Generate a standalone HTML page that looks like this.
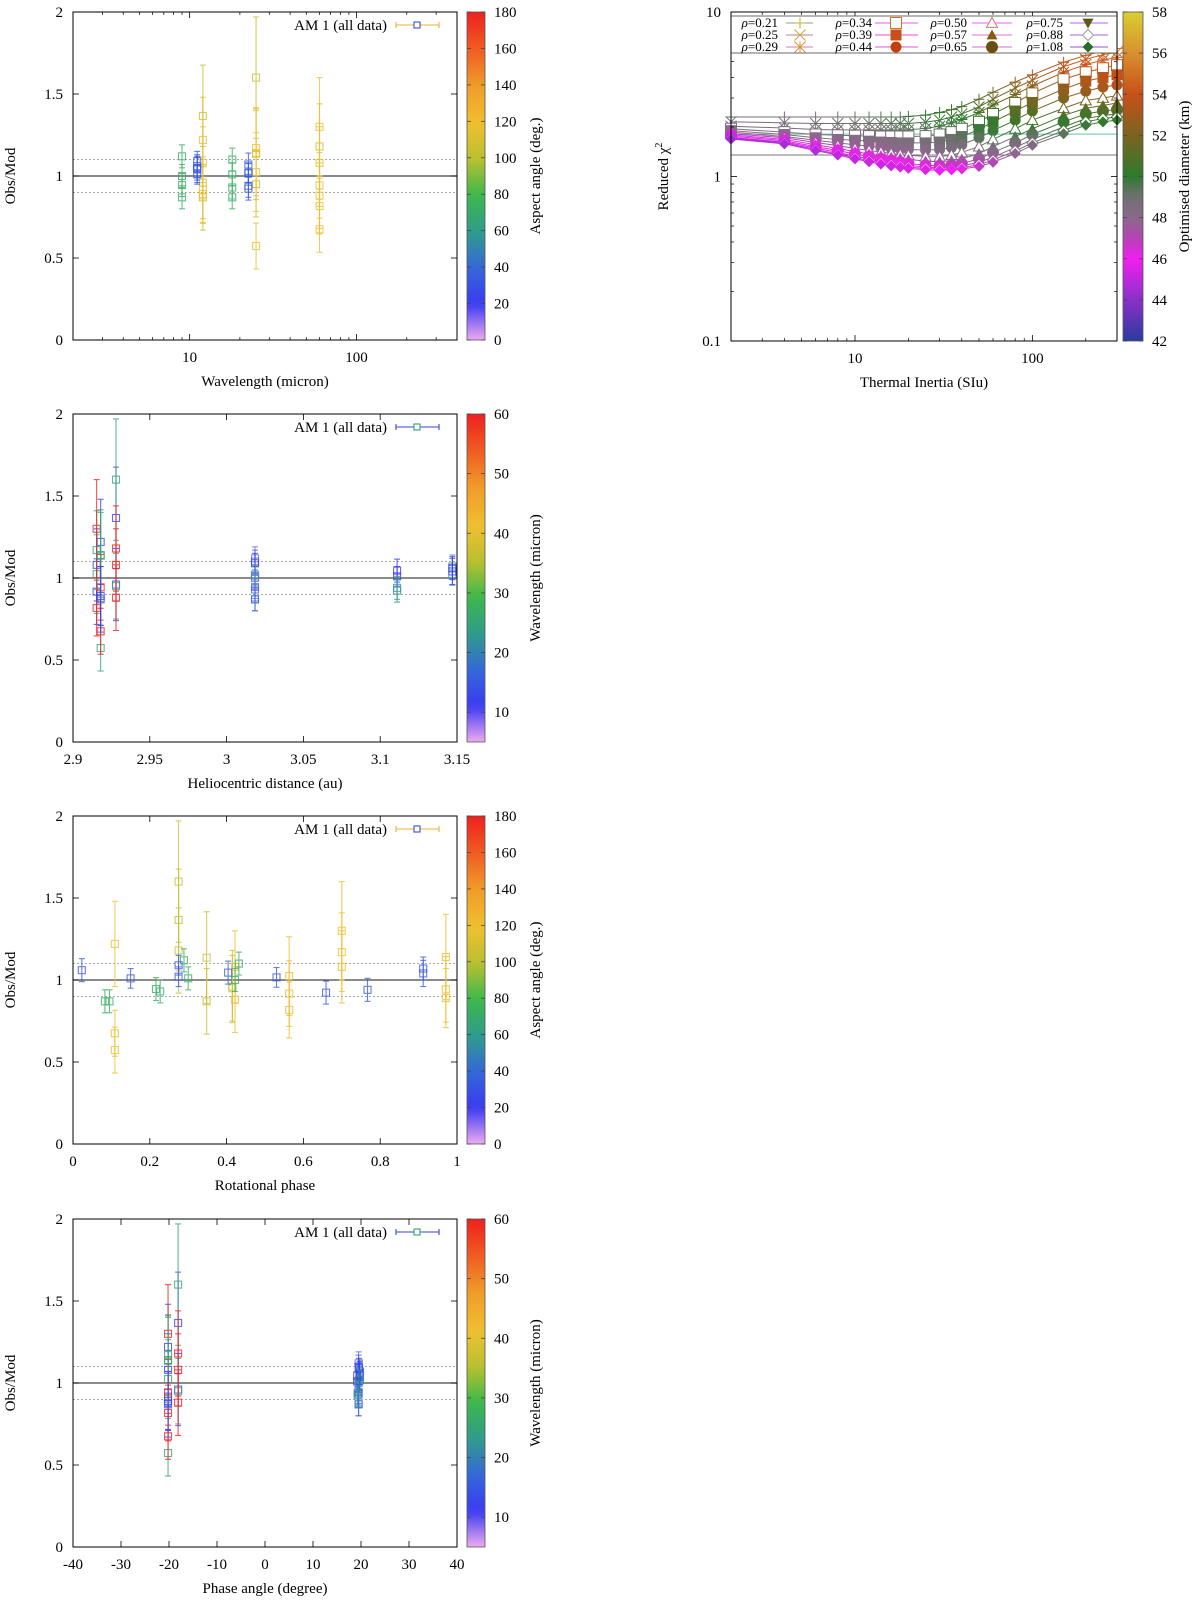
<!DOCTYPE html>
<html><head><meta charset="utf-8">
<style>
html,body{margin:0;padding:0;background:#fff;}
svg{display:block;font-family:"Liberation Serif",serif;}
</style></head>
<body>
<svg id="root" width="1200" height="1602" viewBox="0 0 1200 1602" xmlns="http://www.w3.org/2000/svg"></svg>
<script>
// ---------------- observation data (shared by the four Obs/Mod panels) ----------------
const obsWave   = [12,25,60,12,25,60,12,25,12,25,60,60,12,25,60,12,25,60,60,25,12, 9,18,9,18,9,18,9,18, 11.1,11.1,22.5,22.5,22.5,22.5,11.1,11.1,11.1,22.5];
const obsRh     = [2.918,2.918,2.918,2.928,2.928,2.928,2.918,2.918,2.928,2.928,2.928,2.928,2.9154,2.9154,2.9154,2.9154,2.9154,2.9154,2.918,2.918,2.918, 3.0185,3.0185,3.0185,3.0185,3.0185,3.0185,3.0185,3.0185, 3.111,3.111,3.111,3.111,3.147,3.147,3.147,3.147,3.0185,3.0185];
const obsPhase  = [-20.2,-20.2,-20.2,-18.1,-18.1,-18.1,-20.2,-20.2,-18.1,-18.1,-18.1,-18.1,-20.2,-20.2,-20.2,-20.2,-20.2,-20.2,-20.2,-20.2,-20.2, 19.5,19.5,19.5,19.5,19.5,19.5,19.5,19.5, 19.2,19.2,19.3,19.3,19.8,19.8,19.7,19.7,19.6,19.6];
const obsRot    = [0.109,0.109,0.109,0.275,0.275,0.275,0.348,0.348,0.415,0.415,0.422,0.422,0.563,0.563,0.563,0.700,0.700,0.700,0.971,0.971,0.971, 0.083,0.095,0.216,0.227,0.289,0.300,0.422,0.432, 0.404,0.150,0.659,0.767,0.912,0.530,0.912,0.023,0.275,0.275];
const obsRatio  = [1.22,0.573,0.675,1.366,1.60,1.18,0.87,1.136,0.96,0.95,1.08,0.88,0.917,1.024,0.817,1.08,1.17,1.30,0.943,1.14,0.89, 0.87,0.87,0.945,0.93,1.12,1.01,1.00,1.10, 1.045,1.01,0.923,0.94,1.07,1.016,1.04,1.06,1.09,1.02];
const obsErr    = [0.26,0.14,0.14,0.31,0.37,0.26,0.2,0.28,0.22,0.2,0.22,0.2,0.2,0.24,0.17,0.22,0.24,0.30,0.2,0.26,0.18, 0.07,0.07,0.07,0.07,0.07,0.07,0.07,0.07, 0.07,0.06,0.07,0.07,0.07,0.06,0.08,0.07,0.06,0.06];
const obsAspect = [118,118,118,105,105,105,105,105,105,105,118,118,118,118,118,118,118,118,118,118,118, 72,72,72,72,72,72,72,72, 33,33,33,33,33,33,33,33,33,33];

// ---------------- chi2 panel data ----------------
const tiValues = [2,4,6,8,10,12,14,16,18,20,25,30,35,40,50,60,80,100,150,200,250,300];
const rhoLabels = ["0.21","0.25","0.29","0.34","0.39","0.44","0.50","0.57","0.65","0.75","0.88","1.08"];
const chi021 = [2.3,2.3,2.3,2.3,2.3,2.3,2.3,2.3,2.3,2.32,2.36,2.45,2.55,2.66,2.95,3.25,3.75,4.15,4.95,5.45,5.8,6.0];
const chi025 = [2.15,2.12,2.1,2.1,2.1,2.1,2.1,2.1,2.1,2.1,2.14,2.2,2.3,2.4,2.65,2.95,3.45,3.85,4.65,5.15,5.5,5.7];
const chi029 = [2.02,1.97,1.93,1.92,1.92,1.92,1.92,1.92,1.92,1.92,1.96,2.02,2.12,2.22,2.45,2.72,3.15,3.55,4.3,4.8,5.1,5.3];
const chi034 = [1.95,1.86,1.8,1.78,1.77,1.76,1.75,1.75,1.75,1.75,1.76,1.8,1.86,1.95,2.15,2.4,2.8,3.2,3.9,4.3,4.55,4.75];
const chi039 = [1.9,1.8,1.72,1.68,1.66,1.64,1.62,1.61,1.6,1.6,1.6,1.62,1.68,1.75,1.93,2.15,2.5,2.82,3.4,3.8,4.0,4.15];
const chi044 = [1.86,1.75,1.66,1.6,1.56,1.53,1.5,1.48,1.47,1.46,1.45,1.46,1.5,1.56,1.72,1.9,2.2,2.5,3.0,3.3,3.5,3.6];
const chi050 = [1.82,1.72,1.61,1.54,1.48,1.44,1.41,1.38,1.36,1.35,1.32,1.32,1.35,1.4,1.52,1.68,1.95,2.2,2.6,2.9,3.0,3.1];
const chi057 = [1.79,1.68,1.56,1.48,1.42,1.37,1.34,1.31,1.29,1.27,1.24,1.23,1.25,1.28,1.38,1.52,1.75,1.95,2.35,2.6,2.7,2.8];
const chi065 = [1.76,1.65,1.52,1.44,1.37,1.32,1.28,1.25,1.22,1.2,1.17,1.16,1.17,1.2,1.28,1.4,1.6,1.8,2.15,2.4,2.5,2.55];
const chi075 = [1.73,1.62,1.49,1.4,1.33,1.28,1.24,1.21,1.19,1.17,1.14,1.13,1.14,1.16,1.22,1.31,1.5,1.68,2.0,2.25,2.35,2.4];
const chi088 = [1.71,1.6,1.46,1.37,1.3,1.25,1.21,1.18,1.16,1.14,1.12,1.11,1.11,1.13,1.18,1.26,1.43,1.6,1.9,2.15,2.25,2.3];
const chi108 = [1.69,1.58,1.44,1.35,1.28,1.23,1.19,1.16,1.14,1.12,1.1,1.09,1.1,1.11,1.15,1.22,1.38,1.55,1.82,2.05,2.15,2.2];
const dia021 = [49.0,49.0,49.0,49.1,49.2,49.3,49.4,49.5,49.6,49.7,49.9,50.1,50.4,50.6,51.2,51.7,52.5,53.1,54.1,54.7,55.1,55.4];
const dia025 = [48.8,48.8,48.8,48.9,49.0,49.1,49.2,49.3,49.4,49.5,49.7,49.9,50.1,50.3,50.9,51.4,52.2,52.8,53.8,54.4,54.8,55.1];
const dia029 = [48.6,48.6,48.6,48.7,48.8,48.9,49.0,49.1,49.2,49.3,49.4,49.6,49.8,50.0,50.6,51.1,51.9,52.5,53.5,54.1,54.5,54.8];
const dia034 = [48.3,48.3,48.3,48.4,48.5,48.6,48.6,48.7,48.8,48.9,49.0,49.2,49.4,49.6,50.2,50.7,51.5,52.1,53.1,53.7,54.1,54.4];
const dia039 = [48.0,48.0,48.0,48.1,48.2,48.3,48.3,48.4,48.5,48.6,48.7,48.9,49.1,49.3,49.8,50.3,51.1,51.7,52.7,53.3,53.7,54.0];
const dia044 = [47.6,47.6,47.7,47.8,47.8,47.9,47.9,48.0,48.0,48.1,48.2,48.4,48.6,48.8,49.3,49.8,50.6,51.2,52.2,52.8,53.2,53.4];
const dia050 = [46.8,47.0,47.1,47.2,47.3,47.4,47.4,47.5,47.5,47.6,47.7,47.9,48.1,48.3,48.8,49.3,50.0,50.6,51.5,52.0,52.4,52.6];
const dia057 = [46.2,46.4,46.5,46.6,46.7,46.8,46.8,46.9,46.9,47.0,47.1,47.3,47.5,47.7,48.2,48.7,49.4,49.9,50.8,51.3,51.6,51.8];
const dia065 = [45.6,45.8,46.0,46.1,46.2,46.3,46.3,46.4,46.4,46.5,46.6,46.8,47.0,47.2,47.7,48.2,48.9,49.4,50.3,50.8,51.1,51.3];
const dia075 = [45.1,45.3,45.5,45.7,45.8,45.9,45.9,46.0,46.0,46.1,46.2,46.4,46.6,46.8,47.3,47.8,48.5,49.0,49.9,50.4,50.7,50.9];
const dia088 = [44.7,44.9,45.2,45.4,45.5,45.6,45.7,45.7,45.8,45.8,45.9,46.1,46.3,46.5,47.0,47.5,48.2,48.7,49.6,50.1,50.4,50.6];
const dia108 = [44.4,44.6,44.9,45.1,45.2,45.3,45.4,45.4,45.5,45.5,45.6,45.8,46.0,46.2,46.7,47.2,47.9,48.4,49.3,49.8,50.1,50.3];
const chiThresholds = [1.81,1.35];

// ---------------- tick labels ----------------
const ratioTicks = [0,0.5,1,1.5,2];
const waveTicks = [10,100];
const rhTicks = [2.9,2.95,3,3.05,3.1,3.15];
const rotTicks = [0,0.2,0.4,0.6,0.8,1];
const phaseTicks = [-40,-30,-20,-10,0,10,20,30,40];
const aspectCbTicks = [0,20,40,60,80,100,120,140,160,180];
const waveCbTicks = [10,20,30,40,50,60];
const chiYTicks = [0.1,1,10];
const tiTicks = [10,100];
const diaCbTicks = [42,44,46,48,50,52,54,56,58];

// ---------------- helpers ----------------
const NS = "http://www.w3.org/2000/svg";
const root = document.getElementById('root');
function mk(tag, attrs, parent){
  const el = document.createElementNS(NS, tag);
  for (const k in attrs) el.setAttribute(k, attrs[k]);
  (parent || root).appendChild(el);
  return el;
}
function hex2rgb(h){return [parseInt(h.substr(1,2),16),parseInt(h.substr(3,2),16),parseInt(h.substr(5,2),16)];}
function palette(stops, f){
  f = Math.max(0, Math.min(1, f));
  for (let i=1;i<stops.length;i++){
    if (f <= stops[i][0]){
      const a = stops[i-1], b = stops[i];
      const t = (f - a[0]) / (b[0] - a[0]);
      const ca = hex2rgb(a[1]), cb = hex2rgb(b[1]);
      const c = ca.map((v,j)=>Math.round(v + (cb[j]-v)*t));
      return 'rgb(' + c.join(',') + ')';
    }
  }
  return stops[stops.length-1][1];
}
const rainbowStops = [[0,'#eeaaf0'],[0.11,'#3a3af2'],[0.22,'#3568d8'],[0.33,'#2f9c8c'],[0.44,'#3cb84c'],[0.55,'#b8c030'],[0.66,'#f0c030'],[0.78,'#f09a28'],[0.89,'#f05a22'],[1,'#f02020']];
const diaStops = [[0,'#2a3aa0'],[0.125,'#8a30c8'],[0.25,'#f020f0'],[0.31,'#b840b8'],[0.375,'#8a6a8a'],[0.44,'#707070'],[0.5,'#2e7a2e'],[0.625,'#7a6420'],[0.75,'#c85018'],[0.875,'#d89030'],[1,'#d8d030']];

function linScale(d0,d1,r0,r1){return v => r0 + (v-d0)/(d1-d0)*(r1-r0);}
function logScale(d0,d1,r0,r1){return v => r0 + (Math.log10(v)-Math.log10(d0))/(Math.log10(d1)-Math.log10(d0))*(r1-r0);}

function text(x,y,str,anchor,size,parent,name){
  const t = mk('text',{x:x,y:y,'text-anchor':anchor||'middle','font-size':size||15,fill:'#000'},parent);
  t.textContent = str;
  
  
  return t;
}
function vtext(x,y,str,parent,name){
  const t = mk('text',{x:0,y:0,'text-anchor':'middle','font-size':15,fill:'#000',transform:'translate('+x+','+y+') rotate(-90)'},parent);
  t.textContent = str;
  
  
  return t;
}

function colorbar(g, cb, y0, y1, stops, lo, hi, ticks, title, titleX, prefix){
  const gid = prefix + '-grad';
  const defs = mk('defs',{},g);
  const lg = mk('linearGradient',{id:gid,x1:0,y1:1,x2:0,y2:0},defs);
  for (let i=0;i<=40;i++){
    mk('stop',{offset:(i/40),'stop-color':palette(stops,i/40)},lg);
  }
  const r = mk('rect',{x:cb.x,y:y0,width:cb.w,height:y1-y0,fill:'url(#'+gid+')',stroke:'#555','stroke-width':0.8},g);
  
  
  const sy = linScale(lo,hi,y1,y0);
  ticks.forEach(v=>{
    const y = sy(v);
    mk('line',{x1:cb.x,x2:cb.x+4,y1:y,y2:y,stroke:'#444','stroke-width':0.8},g);
    mk('line',{x1:cb.x+cb.w-4,x2:cb.x+cb.w,y1:y,y2:y,stroke:'#444','stroke-width':0.8},g);
    text(cb.x+cb.w+9, y+5, String(v), 'start', 15, g, prefix + '-colorbar-tick-label');
  });
  vtext(titleX, (y0+y1)/2, title, g, prefix + '-colorbar-title');
}

function frame(g, p, name){
  const r = mk('rect',{x:p.x0,y:p.y0,width:p.x1-p.x0,height:p.y1-p.y0,fill:'none',stroke:'#000','stroke-width':1},g);
  
  
}

// ---------------- Obs/Mod panels ----------------
function obsPanel(cfg){
  const p = cfg.p;
  const g = mk('g',{});
  
  
  const sx = cfg.sx, sy = linScale(0,2,p.y1,p.y0);
  [[1.1,'2,2'],[0.9,'2,2']].forEach(d=>{
    const l = mk('line',{x1:p.x0,x2:p.x1,y1:sy(d[0]),y2:sy(d[0]),stroke:'#888','stroke-width':0.8,'stroke-dasharray':d[1]},g);
    
    
  });
  const ref = mk('line',{x1:p.x0,x2:p.x1,y1:sy(1),y2:sy(1),stroke:'#444','stroke-width':1.3},g);
  
  
  ratioTicks.forEach(v=>{
    const y = sy(v);
    mk('line',{x1:p.x0,x2:p.x0+6,y1:y,y2:y,stroke:'#000','stroke-width':0.8},g);
    mk('line',{x1:p.x1-6,x2:p.x1,y1:y,y2:y,stroke:'#000','stroke-width':0.8},g);
    text(p.x0-10, y+5, String(v), 'end', 15, g, 'y-tick-label');
  });
  cfg.xticks.forEach(v=>{
    const x = sx(v);
    mk('line',{x1:x,x2:x,y1:p.y1,y2:p.y1-6,stroke:'#000','stroke-width':0.8},g);
    mk('line',{x1:x,x2:x,y1:p.y0,y2:p.y0+6,stroke:'#000','stroke-width':0.8},g);
    text(x, p.y1+22, String(v), 'middle', 15, g, 'x-tick-label');
  });
  (cfg.minor||[]).forEach(v=>{
    const x = sx(v);
    mk('line',{x1:x,x2:x,y1:p.y1,y2:p.y1-3,stroke:'#000','stroke-width':0.7},g);
    mk('line',{x1:x,x2:x,y1:p.y0,y2:p.y0+3,stroke:'#000','stroke-width':0.7},g);
  });
  cfg.xs.forEach((xv,i)=>{
    const col = palette(rainbowStops, (cfg.cs[i]-cfg.clo)/(cfg.chi-cfg.clo));
    const x = sx(xv), y = sy(obsRatio[i]);
    const yt = sy(Math.min(2,obsRatio[i]+obsErr[i])), yb = sy(Math.max(0,obsRatio[i]-obsErr[i]));
    const pg = mk('g',{stroke:col,'stroke-width':1.1,fill:'none',opacity:0.78},g);
    
    
    mk('line',{x1:x,x2:x,y1:yt,y2:yb},pg);
    mk('line',{x1:x-3,x2:x+3,y1:yt,y2:yt},pg);
    mk('line',{x1:x-3,x2:x+3,y1:yb,y2:yb},pg);
    mk('rect',{x:x-3.5,y:y-3.5,width:7,height:7},pg);
  });
  frame(g, p, 'plot-frame');
  const lgG = mk('g',{},g);
  
  
  const ly = p.y0+13;
  text(387, ly+5, 'AM 1 (all data)', 'end', 15, lgG, 'legend-label');
  mk('line',{x1:396,x2:439,y1:ly,y2:ly,stroke:cfg.legLine,'stroke-width':1.1},lgG);
  mk('line',{x1:396,x2:396,y1:ly-3,y2:ly+3,stroke:cfg.legLine,'stroke-width':1.1},lgG);
  mk('line',{x1:439,x2:439,y1:ly-3,y2:ly+3,stroke:cfg.legLine,'stroke-width':1.1},lgG);
  mk('rect',{x:414,y:ly-3,width:6,height:6,fill:'#fff',stroke:cfg.legBox,'stroke-width':1.1},lgG);
  vtext(15, (p.y0+p.y1)/2, 'Obs/Mod', g, 'y-axis-title');
  text((p.x0+p.x1)/2, p.y1+46, cfg.xtitle, 'middle', 15, g, 'x-axis-title');
  colorbar(g, {x:467,w:18}, p.y0, p.y1, rainbowStops, cfg.clo, cfg.chi, cfg.cbTicks, cfg.cbTitle, 540, cfg.name);
}

const X0 = 73, X1 = 457;
obsPanel({name:'wavelength-panel', p:{x0:X0,x1:X1,y0:12,y1:340}, sx:logScale(2,400,X0,X1), xs:obsWave, xticks:waveTicks,
  minor:[2,3,4,5,6,7,8,9,20,30,40,50,60,70,80,90,200,300,400], cs:obsAspect, clo:0, chi:180, cbTicks:aspectCbTicks,
  cbTitle:'Aspect angle (deg.)', xtitle:'Wavelength (micron)', legLine:'#f0b030', legBox:'#3a50d0'});
obsPanel({name:'heliocentric-panel', p:{x0:X0,x1:X1,y0:414,y1:742}, sx:linScale(2.9,3.15,X0,X1), xs:obsRh, xticks:rhTicks,
  cs:obsWave, clo:5, chi:60, cbTicks:waveCbTicks, cbTitle:'Wavelength (micron)', xtitle:'Heliocentric distance (au)', legLine:'#3a40e0', legBox:'#30a080'});
obsPanel({name:'rotational-phase-panel', p:{x0:X0,x1:X1,y0:816,y1:1144}, sx:linScale(0,1,X0,X1), xs:obsRot, xticks:rotTicks,
  cs:obsAspect, clo:0, chi:180, cbTicks:aspectCbTicks, cbTitle:'Aspect angle (deg.)', xtitle:'Rotational phase', legLine:'#f0b030', legBox:'#3a50d0'});
obsPanel({name:'phase-angle-panel', p:{x0:X0,x1:X1,y0:1219,y1:1547}, sx:linScale(-40,40,X0,X1), xs:obsPhase, xticks:phaseTicks,
  cs:obsWave, clo:5, chi:60, cbTicks:waveCbTicks, cbTitle:'Wavelength (micron)', xtitle:'Phase angle (degree)', legLine:'#3a40e0', legBox:'#30a080'});

// ---------------- chi2 panel ----------------
(function(){
  const p = {x0:731,x1:1117,y0:12,y1:341};
  const g = mk('g',{});
  
  
  const sx = logScale(2,300,p.x0,p.x1), sy = logScale(0.1,10,p.y1,p.y0);
  const chiSeries = [chi021,chi025,chi029,chi034,chi039,chi044,chi050,chi057,chi065,chi075,chi088,chi108];
  const diaSeries = [dia021,dia025,dia029,dia034,dia039,dia044,dia050,dia057,dia065,dia075,dia088,dia108];
  const markers = ['plus','cross','star','osq','fsq','fcirc','otri','ftri','half','fdtri','odia','fdia'];
  const legLineCols = ['#7aaa80','#a09090','#c080c0','#e060e0','#e050e0','#e050e0','#f060f0','#e070e0','#d070d0','#c060e0','#b060e0','#a050d0'];
  const legMarkCols = ['#c8b030','#e0a040','#d89040','#d07030','#c85018','#c04010','#e07070','#8a5a10','#6a5010','#5a5a10','#9a9a9a','#2a6a2a'];
  const dc = d => palette(diaStops,(d-42)/16);
  function marker(type, x, y, col, parent){
    const s = 5.5;
    let el;
    if (type==='plus') el = mk('path',{d:`M${x-s} ${y}H${x+s}M${x} ${y-s}V${y+s}`,stroke:col,'stroke-width':1,fill:'none'},parent);
    else if (type==='cross') el = mk('path',{d:`M${x-s} ${y-s}L${x+s} ${y+s}M${x-s} ${y+s}L${x+s} ${y-s}`,stroke:col,'stroke-width':1,fill:'none'},parent);
    else if (type==='star') el = mk('path',{d:`M${x-s} ${y}H${x+s}M${x} ${y-s}V${y+s}M${x-s} ${y-s}L${x+s} ${y+s}M${x-s} ${y+s}L${x+s} ${y-s}`,stroke:col,'stroke-width':1,fill:'none'},parent);
    else if (type==='osq') el = mk('rect',{x:x-s,y:y-s,width:2*s,height:2*s,stroke:col,'stroke-width':1,fill:'#fff'},parent);
    else if (type==='fsq') el = mk('rect',{x:x-s,y:y-s,width:2*s,height:2*s,fill:col},parent);
    else if (type==='fcirc') el = mk('circle',{cx:x,cy:y,r:s,fill:col},parent);
    else if (type==='otri') el = mk('path',{d:`M${x} ${y-s}L${x+s} ${y+s*0.8}L${x-s} ${y+s*0.8}Z`,stroke:col,'stroke-width':1,fill:'#fff'},parent);
    else if (type==='ftri') el = mk('path',{d:`M${x} ${y-s}L${x+s} ${y+s*0.8}L${x-s} ${y+s*0.8}Z`,fill:col},parent);
    else if (type==='half') el = mk('path',{d:`M${x-s} ${y}A${s} ${s} 0 0 1 ${x+s} ${y}Z M${x-s} ${y}A${s} ${s} 0 0 0 ${x+s} ${y}`,stroke:col,'stroke-width':1,fill:col},parent);
    else if (type==='fdtri') el = mk('path',{d:`M${x} ${y+s}L${x+s} ${y-s*0.8}L${x-s} ${y-s*0.8}Z`,fill:col},parent);
    else if (type==='odia') el = mk('path',{d:`M${x} ${y-s}L${x+s} ${y}L${x} ${y+s}L${x-s} ${y}Z`,stroke:col,'stroke-width':1,fill:'#fff'},parent);
    else el = mk('path',{d:`M${x} ${y-s}L${x+s} ${y}L${x} ${y+s}L${x-s} ${y}Z`,fill:col},parent);
    return el;
  }
  ['#60c8a8','#777'].forEach((c,i)=>{
    const l = mk('line',{x1:p.x0,x2:p.x1,y1:sy(chiThresholds[i]),y2:sy(chiThresholds[i]),stroke:c,'stroke-width':1},g);
    
    
  });
  chiSeries.forEach((ser,k)=>{
    const cg = mk('g',{},g);
    
    
    for (let i=1;i<tiValues.length;i++){
      mk('line',{x1:sx(tiValues[i-1]),y1:sy(ser[i-1]),x2:sx(tiValues[i]),y2:sy(ser[i]),stroke:dc((diaSeries[k][i-1]+diaSeries[k][i])/2),'stroke-width':1},cg);
    }
  });
  chiSeries.forEach((ser,k)=>{
    const mg = mk('g',{},g);
    
    
    ser.forEach((v,i)=>{ marker(markers[k], sx(tiValues[i]), sy(v), dc(diaSeries[k][i]), mg); });
  });
  chiYTicks.forEach(v=>{
    const y = sy(v);
    mk('line',{x1:p.x0,x2:p.x0+6,y1:y,y2:y,stroke:'#000','stroke-width':0.8},g);
    mk('line',{x1:p.x1-6,x2:p.x1,y1:y,y2:y,stroke:'#000','stroke-width':0.8},g);
    text(p.x0-10, y+5, String(v), 'end', 15, g, 'y-tick-label');
  });
  [0.2,0.3,0.4,0.5,0.6,0.7,0.8,0.9,2,3,4,5,6,7,8,9].forEach(v=>{
    const y = sy(v);
    mk('line',{x1:p.x0,x2:p.x0+3,y1:y,y2:y,stroke:'#000','stroke-width':0.7},g);
    mk('line',{x1:p.x1-3,x2:p.x1,y1:y,y2:y,stroke:'#000','stroke-width':0.7},g);
  });
  tiTicks.forEach(v=>{
    const x = sx(v);
    mk('line',{x1:x,x2:x,y1:p.y1,y2:p.y1-6,stroke:'#000','stroke-width':0.8},g);
    mk('line',{x1:x,x2:x,y1:p.y0,y2:p.y0+6,stroke:'#000','stroke-width':0.8},g);
    text(x, p.y1+22, String(v), 'middle', 15, g, 'x-tick-label');
  });
  [3,4,5,6,7,8,9,20,30,40,50,60,70,80,90,200,300].forEach(v=>{
    const x = sx(v);
    mk('line',{x1:x,x2:x,y1:p.y1,y2:p.y1-3,stroke:'#000','stroke-width':0.7},g);
    mk('line',{x1:x,x2:x,y1:p.y0,y2:p.y0+3,stroke:'#000','stroke-width':0.7},g);
  });
  const lg = mk('g',{},g);
  
  
  mk('rect',{x:p.x0,y:16,width:p.x1-p.x0,height:37,fill:'#fff',stroke:'#444','stroke-width':0.8},lg);
  const colText = [778,872,967,1063], colL0 = [786,875,972,1070], colL1 = [813,918,1012,1108], colM = [800,896,992,1088];
  rhoLabels.forEach((r,k)=>{
    const c = Math.floor(k/3), row = k%3;
    const y = 23 + row*12;
    const e = mk('g',{},lg);
    
    
    const t = mk('text',{x:colText[c],y:y+4,'text-anchor':'end','font-size':13,fill:'#000'},e);
    
    
    const ts = mk('tspan',{'font-style':'italic'},t); ts.textContent = 'ρ';
    const ts2 = mk('tspan',{},t); ts2.textContent = '=' + r;
    mk('line',{x1:colL0[c],x2:colL1[c],y1:y,y2:y,stroke:legLineCols[k],'stroke-width':1},e);
    marker(markers[k], colM[c], y, legMarkCols[k], e);
  });
  frame(g, p, 'plot-frame');
  const yt = mk('text',{x:0,y:0,'text-anchor':'middle','font-size':15,fill:'#000',transform:'translate(668,'+((p.y0+p.y1)/2)+') rotate(-90)'},g);
  
  
  const y1s = mk('tspan',{},yt); y1s.textContent = 'Reduced χ';
  const y2s = mk('tspan',{'font-size':10,dy:-6},yt); y2s.textContent = '2';
  text((p.x0+p.x1)/2, p.y1+46, 'Thermal Inertia (SIu)', 'middle', 15, g, 'x-axis-title');
  colorbar(g, {x:1123,w:20}, p.y0, p.y1, diaStops, 42, 58, diaCbTicks, 'Optimised diameter (km)', 1189, 'diameter');
})();
</script>
</body></html>
